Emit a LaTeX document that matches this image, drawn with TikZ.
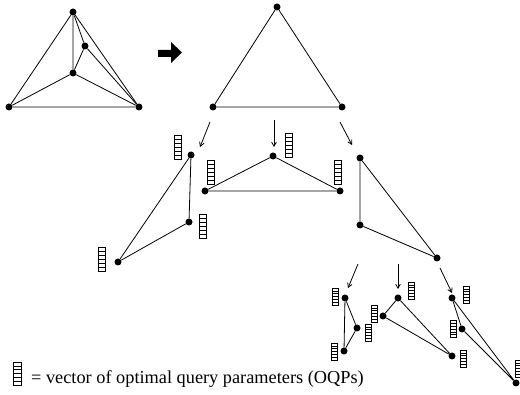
\documentclass[tikz,border=0pt]{standalone}
\usepackage{fontspec}
\setmainfont{Liberation Serif}
\usetikzlibrary{arrows,calc}
\tikzset{
        % Graph vertices
        vertex/.style={circle, fill=black, inner sep=0pt, minimum size=7pt},
        % Graph edges
        link/.style={line width=0.8pt},
        % Refinement arrows
        refine/.style={->, >=angle 60, line width=0.8pt},
        % Vector of optimal query parameters
        oqp/.style={draw, rectangle, inner sep=0pt, line width=0.6pt,
                minimum width=7pt, minimum height=24pt,
                path picture={
                        \foreach \k in {1,...,5}
                                \draw[line width=0.5pt]
                                ($(path picture bounding box.south west)!\k/6!(path picture bounding box.north west)$) --
                                ($(path picture bounding box.south east)!\k/6!(path picture bounding box.north east)$);
                }},
        % Small vectors of the last level
        oqp_small/.style={oqp, minimum width=6pt, minimum height=17pt}
}

\begin{document}
\begin{tikzpicture}[x=1pt, y=-1pt]
            \useasboundingbox (0,0) rectangle (520,395);

            % Original graph
            \node[vertex] (a1) at (73,12) {};
            \node[vertex] (a2) at (85,46) {};
            \node[vertex] (a3) at (73,73) {};
            \node[vertex] (a4) at (9,107) {};
            \node[vertex] (a5) at (139,107) {};
            \draw[link] (a1) -- (a4) -- (a5) -- (a1) -- (a3) -- (a4);
            \draw[link] (a1) -- (a2) -- (a3) -- (a5) -- (a2);

            \fill (158,50) -- (171,50) -- (171,42) -- (182,52.5) -- (171,63) -- (171,57) -- (158,57) -- cycle;

            % Coarse triangle
            \node[vertex] (b1) at (277,7) {};
            \node[vertex] (b2) at (213,107) {};
            \node[vertex] (b3) at (342,107) {};
            \draw[link] (b1) -- (b2) -- (b3) -- (b1);

            \coordinate (r1s) at (210,122); \coordinate (r1e) at (200,147);
            \coordinate (r2s) at (274,120); \coordinate (r2e) at (274,147);
            \coordinate (r3s) at (340,122); \coordinate (r3e) at (352,145);
            \draw[refine] (r1s) -- (r1e);
            \draw[refine] (r2s) -- (r2e);
            \draw[refine] (r3s) -- (r3e);

            % Second level
            \node[vertex] (d1) at (191,155) {};
            \node[vertex] (d2) at (189,222) {};
            \node[vertex] (d3) at (118,262) {};
            \draw[link] (d1) -- (d2) -- (d3) -- (d1);
            \node[oqp] (vd1) at (177.5,147.5) {};
            \node[oqp] (vd2) at (203,226) {};
            \node[oqp] (vd3) at (101.5,259) {};

            \node[vertex] (c1) at (273,156) {};
            \node[vertex] (c2) at (205,191) {};
            \node[vertex] (c3) at (340,191) {};
            \draw[link] (c1) -- (c2) -- (c3) -- (c1);
            \node[oqp] (vc1) at (289,145) {};
            \node[oqp] (vc2) at (210.5,172) {};
            \node[oqp] (vc3) at (338,172.5) {};

            \node[vertex] (e1) at (360,158) {};
            \node[vertex] (e2) at (360,225) {};
            \node[vertex] (e3) at (437,258) {};
            \draw[link] (e1) -- (e2) -- (e3) -- (e1);

            \coordinate (s1s) at (358,264); \coordinate (s1e) at (348,288);
            \coordinate (s2s) at (398,264); \coordinate (s2e) at (398,289);
            \coordinate (s3s) at (440,268); \coordinate (s3e) at (452,293);
            \draw[refine] (s1s) -- (s1e);
            \draw[refine] (s2s) -- (s2e);
            \draw[refine] (s3s) -- (s3e);

            % Third level
            \node[vertex] (f1) at (345,298) {};
            \node[vertex] (f2) at (357,328) {};
            \node[vertex] (f3) at (344,351) {};
            \draw[link] (f1) -- (f2) -- (f3) -- (f1);
            \node[oqp_small] (vf1) at (335,296.5) {};
            \node[oqp_small] (vf2) at (368,332.5) {};
            \node[oqp_small] (vf3) at (334,351.5) {};

            \node[vertex] (g1) at (398,298) {};
            \node[vertex] (g2) at (383,316) {};
            \node[vertex] (g3) at (452,356) {};
            \draw[link] (g1) -- (g2) -- (g3) -- (g1);
            \node[oqp_small] (vg1) at (411,290.5) {};
            \node[oqp_small] (vg2) at (374.5,313.5) {};
            \node[oqp_small] (vg3) at (463.5,358.5) {};

            \node[vertex] (h1) at (452,298) {};
            \node[vertex] (h2) at (462,329) {};
            \node[vertex] (h3) at (516,383) {};
            \draw[link] (h1) -- (h2) -- (h3) -- (h1);
            \node[oqp_small] (vh1) at (466,294.5) {};
            \node[oqp_small] (vh2) at (453,329) {};
            \node[oqp_small] (vh3) at (518,368.5) {};

            % Legend
            \node[oqp, minimum width=8pt, minimum height=23pt] (vkey) at (17,373.5) {};
            \node[anchor=base west, inner sep=0pt, font=\fontsize{18.3}{20}\selectfont] (key) at (31,384)
                {= vector of optimal query parameters (OQPs)};
\end{tikzpicture}
\end{document}
